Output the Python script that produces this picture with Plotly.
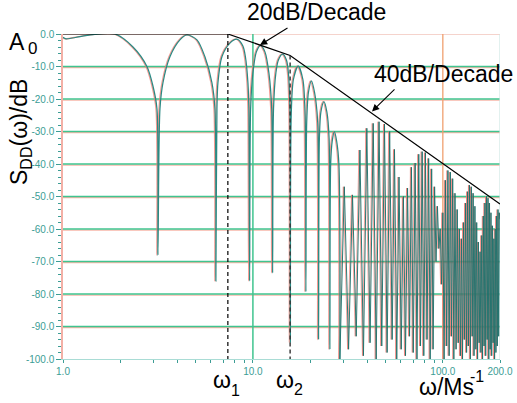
import math
import plotly.graph_objects as go

# ---------------- data ----------------
# detailed first lobes (frequency in Ms^-1, level in dB)
low_freq = [1.000, 1.037, 1.229, 1.473, 1.878, 2.336, 2.767, 2.976, 3.124, 3.162,
            3.240, 3.360, 3.656, 4.127, 4.496, 5.074, 5.589, 6.085, 6.310, 6.383,
            6.465, 6.543, 6.866, 7.568, 8.236, 8.855, 9.130, 9.414, 9.520, 9.610,
            9.725, 10.00, 10.43, 10.98, 11.57, 12.14, 12.56, 12.70,
            12.84, 13.21, 13.62, 14.33, 15.01, 15.38, 15.66, 15.75,
            15.91, 16.34, 17.31, 18.33, 18.83, 19.01,
            19.20, 19.60, 20.32, 21.12, 21.93, 22.17,
            22.39, 22.80, 23.65, 24.52, 25.18, 25.43,
            25.67, 26.15, 26.85, 27.61, 28.36, 28.71]
low_db = [-1.0, -1.5, -0.8, -0.1, 0.0, -4.0, -10.0, -16.0, -23.0, -68.0,
          -23.0, -15.0, -7.0, -1.8, -0.3, -1.8, -7.0, -15.0, -23.0, -76.0,
          -23.0, -15.0, -7.0, -2.8, -1.6, -3.7, -7.0, -15.0, -23.0, -76.0,
          -23.0, -12.0, -5.5, -3.5, -5.5, -12.0, -23.0, -73.5,
          -23.0, -12.0, -8.0, -6.2, -8.0, -12.0, -23.0, -95.0,
          -25.0, -14.0, -9.8, -14.0, -25.0, -79.3,
          -27.0, -18.0, -14.4, -18.0, -27.0, -94.0,
          -32.0, -24.0, -20.8, -24.0, -32.0, -97.0,
          -40.0, -33.0, -30.0, -33.0, -40.0, -100.0]

# dense comb of lobes above ~29 Ms^-1
peak_freq = [30.3, 33.45, 36.6, 39.8, 43.0, 46.15, 49.3, 52.5, 55.65, 58.8,
             62.0, 65.2, 68.35, 71.5, 74.7, 77.85, 81.0, 84.2, 87.35, 90.5,
             93.7, 96.9, 100.05, 103.2, 106.4, 109.55, 112.7, 115.9, 119.1, 122.25,
             125.4, 128.6, 131.8, 134.95, 138.1, 141.3, 144.45, 147.6, 150.8, 153.95,
             157.1, 160.3, 163.45, 166.6, 169.8, 173.0, 176.15, 179.3, 182.5, 185.7,
             188.85, 192.0, 195.2, 198.4]
peak_db = [-47, -49.5, -35.7, -29, -27.5, -27, -27.7, -30, -35.5, -44,
           -50, -47.4, -41, -39.7, -37, -36.2, -36.5, -38.3, -41.5, -47,
           -53, -60, -55, -45, -42, -42.5, -44.5, -49, -54, -60,
           -63, -58, -52, -48.5, -46.5, -47, -49, -53, -58, -64,
           -67, -62, -56, -52, -50, -50.5, -52, -55, -59, -63,
           -60, -56, -54, -55]
null_freq = [31.9, 35.0, 38.2, 41.4, 44.6, 47.7, 50.9, 54.1, 57.2, 60.4,
             63.6, 66.8, 69.9, 73.1, 76.3, 79.4, 82.6, 85.8, 88.9, 92.1,
             95.3, 98.5, 101.6, 104.8, 108.0, 111.1, 114.3, 117.5, 120.7, 123.8,
             127.0, 130.2, 133.4, 136.5, 139.7, 142.9, 146.0, 149.2, 152.4, 155.5,
             158.7, 161.9, 165.0, 168.2, 171.4, 174.6, 177.7, 180.9, 184.1, 187.3,
             190.4, 193.6, 196.8]
null_db = [-97, -93, -99, -95, -100, -96, -98, -94, -100, -97,
           -99, -93, -98, -100, -96, -99, -94, -100, -97, -70,
           -66, -77, -100, -96, -99, -93, -100, -97, -95, -99,
           -100, -94, -98, -96, -100, -93, -99, -97, -100, -95,
           -98, -100, -96, -99, -94, -100, -97, -99, -95, -100,
           -98, -96, -93]
end_freq = [200.0]
end_db = [-57.0]

# asymptote (envelope) and corner frequencies
env_freq = [1.0, 7.38, 15.7, 200.0]
env_db = [0.0, 0.0, -6.6, -52.3]
omega1 = 7.38
omega2 = 15.7

y_ticks = [0, -10, -20, -30, -40, -50, -60, -70, -80, -90, -100]
y_ticktext = ["0.0", "-10.0", "-20.0", "-30.0", "-40.0", "-50.0",
              "-60.0", "-70.0", "-80.0", "-90.0", "-100.0"]
x_ticks = [1, 10, 100, 200]
x_ticktext = ["1.0", "10.0", "100.0", "200.0"]
x_minor = [2, 3, 4, 5, 6, 7, 8, 9, 20, 30, 40, 50, 60, 70, 80, 90]

# ---------------- build dense part ----------------
dense_f = [low_freq[-1]]
dense_d = [low_db[-1]]
for i, (pf, pd) in enumerate(zip(peak_freq, peak_db)):
    dense_f.append(pf)
    dense_d.append(pd)
    if i < len(null_freq):
        dense_f.append(null_freq[i])
        dense_d.append(null_db[i])
dense_f += end_freq
dense_d += end_db

FONT = "Liberation Sans, Arial, Helvetica, sans-serif"
TEAL = "#2a8a84"
TEAL_DARK = "#22736e"
TICKC = "#3c9d95"
GREEN = "#3fc48f"
SALMON = "#f7b6a8"
ORANGE = "#f0a070"
RED = "rgba(240,120,110,0.75)"

fig = go.Figure()

# red misregistered copy (on shifted axis x2)
fig.add_trace(go.Scatter(x=low_freq, y=low_db, mode="lines", xaxis="x2", yaxis="y",
                         line=dict(color=RED, width=1.3, shape="spline", smoothing=0.8),
                         hoverinfo="skip", showlegend=False))
fig.add_trace(go.Scatter(x=dense_f, y=dense_d, mode="lines", xaxis="x2", yaxis="y",
                         line=dict(color=RED, width=0.9),
                         hoverinfo="skip", showlegend=False))
# main curve
fig.add_trace(go.Scatter(x=low_freq, y=low_db, mode="lines", xaxis="x3", yaxis="y",
                         line=dict(color=TEAL, width=1.25, shape="spline", smoothing=0.8),
                         showlegend=False))
fig.add_trace(go.Scatter(x=dense_f, y=dense_d, mode="lines", xaxis="x3", yaxis="y",
                         line=dict(color=TEAL_DARK, width=0.95),
                         showlegend=False))
# envelope
fig.add_trace(go.Scatter(x=env_freq, y=env_db, mode="lines", xaxis="x3", yaxis="y",
                         line=dict(color="black", width=1.2), showlegend=False))
# corner frequency dashed lines
fig.add_trace(go.Scatter(x=[omega1, omega1], y=[env_db[1], y_ticks[-1]], mode="lines",
                         xaxis="x3", yaxis="y",
                         line=dict(color="black", width=1.2, dash="4px,3px"), showlegend=False))
fig.add_trace(go.Scatter(x=[omega2, omega2], y=[env_db[2], y_ticks[-1]], mode="lines",
                         xaxis="x3", yaxis="y",
                         line=dict(color="#333333", width=1.4, dash="4px,3px"), showlegend=False))

# gridlines (from the tick list)
shapes = []
for yv in y_ticks[1:-1]:
    shapes.append(dict(type="line", xref="paper", yref="y", x0=0, x1=1, y0=yv - 0.35, y1=yv - 0.35,
                       line=dict(color=SALMON, width=1.2), layer="below"))
    shapes.append(dict(type="line", xref="paper", yref="y", x0=0, x1=1, y0=yv, y1=yv,
                       line=dict(color=GREEN, width=1.5), layer="below"))
# top border (0 dB)
shapes.append(dict(type="line", xref="paper", yref="y", x0=0, x1=1, y0=y_ticks[0], y1=y_ticks[0],
                   line=dict(color="#f2c4bb", width=1.5), layer="below"))
# vertical grid at decades
shapes.append(dict(type="line", xref="x", yref="paper", x0=x_ticks[1], x1=x_ticks[1], y0=0, y1=1,
                   line=dict(color=GREEN, width=1.5), layer="below"))
shapes.append(dict(type="line", xref="x", yref="paper", x0=x_ticks[2], x1=x_ticks[2], y0=0, y1=1,
                   line=dict(color=ORANGE, width=1.3), layer="below"))
shapes.append(dict(type="line", xref="x", yref="paper", x0=x_ticks[3], x1=x_ticks[3], y0=0, y1=1,
                   line=dict(color="#cfe8e4", width=1.2), layer="below"))


def px2paper(px, py):
    return (px - 63) / 437.0, (359 - py) / 325.0


ann = []


def text(s, px, py, size, **kw):
    xp, yp = px2paper(px, py)
    d = dict(text=s, x=xp, y=yp, xref="paper", yref="paper", showarrow=False,
             font=dict(family=FONT, size=size, color="black"), xanchor="center", yanchor="middle")
    d.update(kw)
    ann.append(d)


def arrow(hx, hy, tx, ty):
    xp, yp = px2paper(hx, hy)
    ann.append(dict(text="", x=xp, y=yp, xref="paper", yref="paper", showarrow=True,
                    ax=tx - hx, ay=ty - hy, arrowhead=2, arrowsize=1.3, arrowwidth=1.1,
                    arrowcolor="black", standoff=0))


text("20dB/Decade", 316, 12, 23)
arrow(260, 45, 289, 27)
text("40dB/Decade", 443, 74, 23)
arrow(372, 111.5, 396, 88)
text("A", 16.5, 42, 23)
text("0", 32.5, 48, 17)
text("S<sub>DD</sub>(ω)/dB", 20, 132, 23, textangle=-90)
text("ω", 221.5, 380, 23)
text("1", 235.5, 390, 16)
text("ω", 285, 380, 23)
text("2", 298.5, 389, 16)
text("ω/Ms", 446.5, 387, 23)
text("-1", 477, 376, 16)

axis_font = dict(family=FONT, size=10, color=TICKC)
lg = math.log10(200)
shift = 1.0 / 190.0

fig.update_layout(
    width=517, height=403,
    margin=dict(l=63, r=17, t=34, b=44),
    paper_bgcolor="white", plot_bgcolor="white",
    showlegend=False,
    shapes=shapes,
    annotations=ann,
    xaxis=dict(type="log", range=[0, lg], tickvals=x_ticks, ticktext=x_ticktext, automargin=False,
               ticks="outside", ticklen=3, tickcolor=TICKC, tickfont=axis_font,
               showgrid=False, zeroline=False, showline=True, linecolor="#a9dcd5", linewidth=1,
               minor=dict(tickvals=x_minor, ticks="outside", ticklen=3, tickcolor=TICKC, showgrid=False)),
    xaxis2=dict(type="log", range=[shift, lg + shift], overlaying="x", visible=False, anchor="y"),
    xaxis3=dict(type="log", range=[0, lg], overlaying="x", visible=False, anchor="y"),
    yaxis=dict(range=[-100, 0], tickvals=y_ticks, ticktext=y_ticktext, automargin=False,
               ticks="outside", ticklen=5, tickcolor=TICKC, tickfont=axis_font,
               showgrid=False, zeroline=False, showline=True, linecolor="#f3b0a6", linewidth=1.5,
               minor=dict(dtick=2, ticks="outside", ticklen=3, tickcolor=TICKC, showgrid=False)),
)

fig.write_html("out.html", config={"displayModeBar": False},
               post_script="document.body.style.margin='0px';document.body.style.overflow='hidden';")
